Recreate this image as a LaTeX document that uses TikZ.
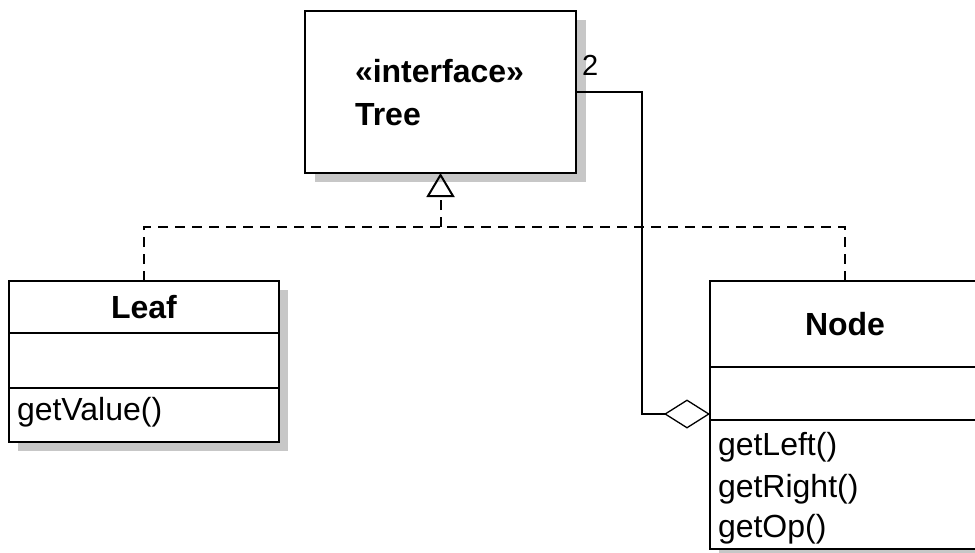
\documentclass[tikz,border=0pt]{standalone}
\usepackage{fontspec}
\setmainfont{Liberation Sans}
\usetikzlibrary{arrows.meta,backgrounds}
\definecolor{shadowgray}{gray}{0.78}
\begin{document}
\begin{tikzpicture}[x=1pt,y=-1pt,
  every node/.style={font=\fontsize{32}{38}\selectfont},
  classbox/.style={draw=black,line width=2pt,fill=white,inner sep=0pt,outer sep=0pt},
  label/.style={inner sep=0pt,outer sep=0pt},
  title/.style={font=\fontsize{32}{38}\selectfont\bfseries},
  member/.style={label,anchor=base west},
  realize/.style={line width=2pt,dash pattern=on 10pt off 7pt},
  assoc/.style={line width=2pt},
]
\useasboundingbox (0,0) rectangle (975,552);

% interface Tree
\node[classbox,minimum width=271pt,minimum height=162pt] (tree) at (440.5,92) {};
\node[member,title] (stereo) at (355,82) {«interface»};
\node[member,title] (treename) at (355,125) {Tree};

% class Leaf
\node[classbox,minimum width=270pt,minimum height=52pt,title] (leafhead) at (144,307) {Leaf};
\node[classbox,minimum width=270pt,minimum height=55pt,anchor=north] (leafattr) at (leafhead.south) {};
\node[classbox,minimum width=270pt,minimum height=54pt,anchor=north] (leafops) at (leafattr.south) {};
\node[member] (getvalue) at (17,420) {getValue()};

% class Node
\node[classbox,minimum width=270pt,minimum height=86pt,title] (nodehead) at (845,324) {Node};
\node[classbox,minimum width=270pt,minimum height=53pt,anchor=north] (nodeattr) at (nodehead.south) {};
\node[classbox,minimum width=270pt,minimum height=129pt,anchor=north] (nodeops) at (nodeattr.south) {};
\node[member] (getleft) at (718,455) {getLeft()};
\node[member] (getright) at (718,497) {getRight()};
\node[member] (getop) at (718,537) {getOp()};

% drop shadows
\begin{scope}[on background layer]
  \fill[shadowgray] ([shift={(10,9)}]tree.north west) rectangle ([shift={(10,9)}]tree.south east);
  \fill[shadowgray] ([shift={(9,9)}]leafhead.north west) rectangle ([shift={(9,9)}]leafops.south east);
  \fill[shadowgray] ([shift={(9,9)}]nodehead.north west) rectangle ([shift={(9,9)}]nodeops.south east);
\end{scope}

% realization of the interface
\coordinate (bus) at (440.5,227);
\draw[realize] (leafhead.north) |- (bus) -| (nodehead.north);
\draw[realize,-{Triangle[open,length=24pt,width=28pt]}] (bus) -- (tree.south);

% aggregation Node <>-- Tree, multiplicity 2
\coordinate (aggend) at (710,414);
\draw[assoc,-{Diamond[open,length=46pt,width=29pt,line width=1.3pt]}]
  (tree.east) -- ++(66,0) |- (aggend);
\node[label,anchor=base west,font=\fontsize{29}{34}\selectfont] (mult) at (582,75) {2};
\end{tikzpicture}
\end{document}
